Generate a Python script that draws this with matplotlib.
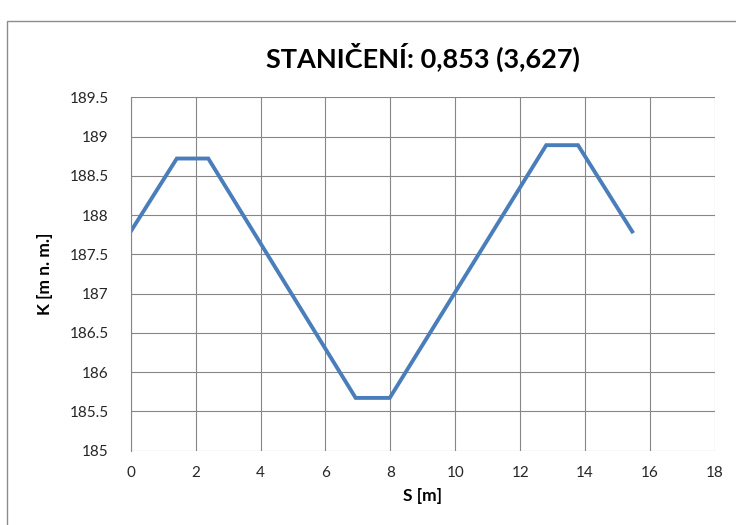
import matplotlib
matplotlib.use("Agg")
import matplotlib.pyplot as plt
from matplotlib.patches import Rectangle

# profile points
s_m = [0.0, 1.42, 2.39, 6.93, 7.98, 12.80, 13.78, 15.45]
k_m = [187.79, 188.72, 188.72, 185.67, 185.67, 188.89, 188.89, 187.79]
x_ticks = [0, 2, 4, 6, 8, 10, 12, 14, 16, 18]
y_ticks = [185, 185.5, 186, 186.5, 187, 187.5, 188, 188.5, 189, 189.5]

plt.rcParams['font.family'] = ['Lato', 'DejaVu Sans']

fig = plt.figure(figsize=(7.36, 5.25), dpi=100)
ax = fig.add_axes([130.7 / 736, 1 - 450.5 / 525, (715 - 130.7) / 736, (450.5 - 97.3) / 525])

# outer chart border
fig.patches.append(Rectangle((7 / 736, -0.05), 1.1, 1 - 21 / 525 + 0.05,
                             transform=fig.transFigure, fill=False,
                             edgecolor='#8c8c8c', linewidth=1.0))

ax.plot(s_m, k_m, color='#4a7ebb', linewidth=2.8, solid_joinstyle='miter')

ax.set_xlim(0, 18)
ax.set_ylim(185, 189.5)
ax.set_xticks(x_ticks)
ax.set_yticks(y_ticks)
ax.set_yticklabels([('%g' % v) for v in y_ticks])
ax.grid(True, color='#868686', linewidth=0.8)
ax.set_axisbelow(True)
for side in ['top', 'right', 'bottom']:
    ax.spines[side].set_visible(False)
ax.spines['left'].set_color('#868686')
ax.spines['left'].set_linewidth(0.8)
ax.tick_params(axis='both', length=0, labelsize=11, labelcolor='#262626')
ax.tick_params(axis='y', pad=16)
ax.tick_params(axis='x', pad=11)

ax.set_xlabel('S [m]', fontsize=12.5, fontweight='bold', labelpad=6)
ax.set_ylabel('K [m n. m.]', fontsize=12.5, fontweight='bold', labelpad=12)
fig.text(423 / 736, 1 - 57 / 525, 'STANIČENÍ: 0,853 (3,627)', ha='center', va='center',
         fontsize=19.5, fontweight='bold')

fig.savefig('out.png', dpi=100)
